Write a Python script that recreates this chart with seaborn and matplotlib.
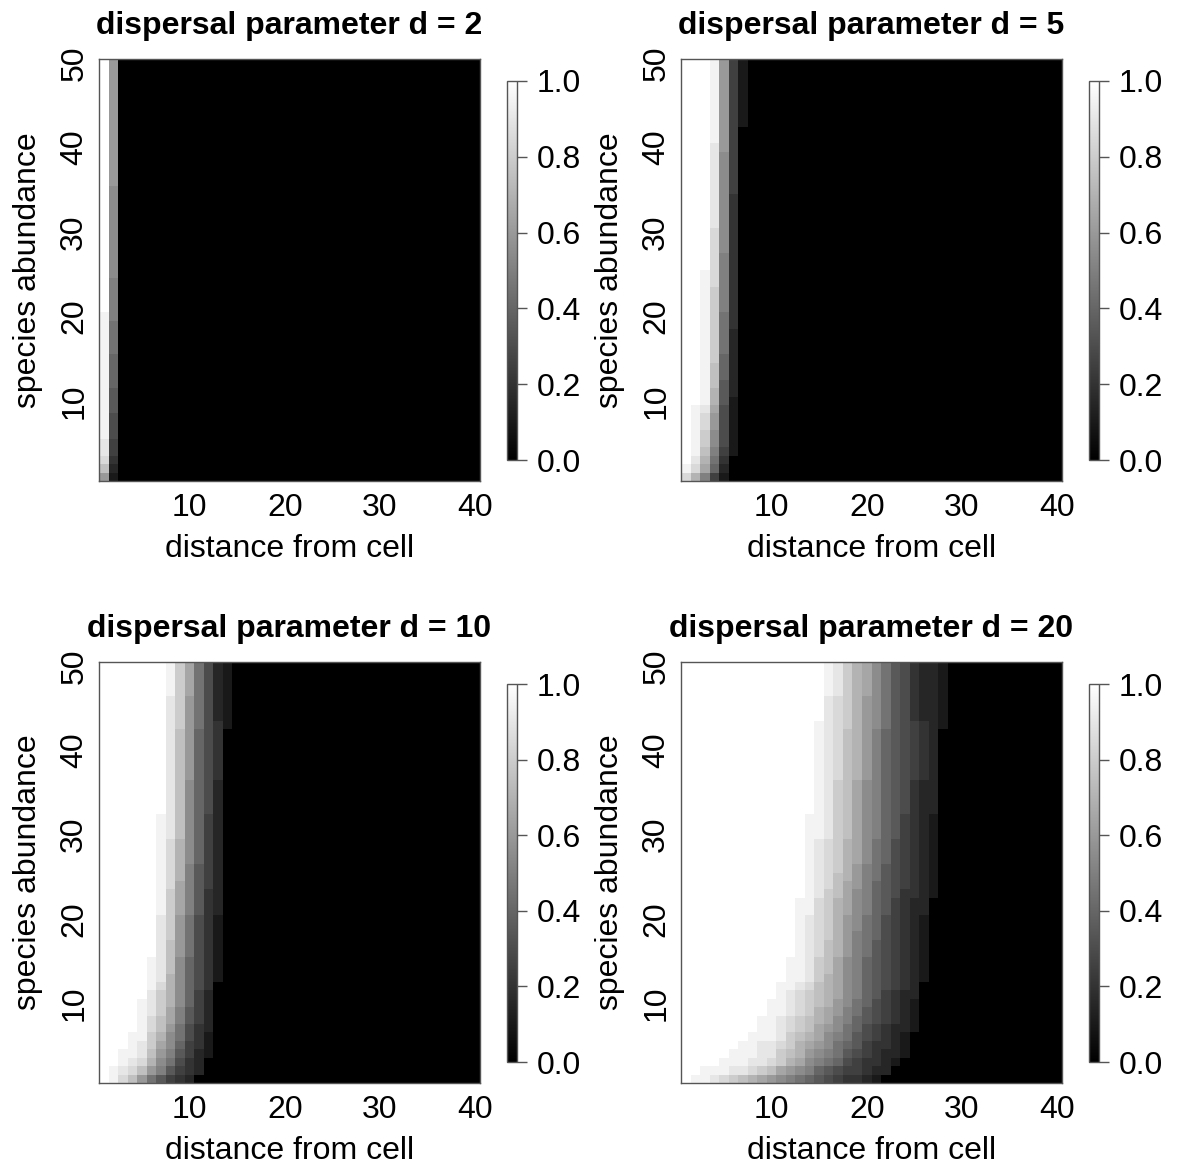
import numpy as np
import pandas as pd
import matplotlib
matplotlib.use("Agg")
import matplotlib.pyplot as plt
import seaborn as sns

# grey level of each cell:
# "0" = 0.0 (black) ... "K" = 1.0 (white), in steps of 0.05
LEVELS = "0123456789ABCDEFGHIJK"

n_dist = 40
distance = list(range(1, 41))
abundance = list(range(50, 0, -1))   # top row (abundance 50) first

d_values = [2, 5, 10, 20]

# runs of (number of rows, cells from distance 1 onwards), abundance 50 down to 1
# cells not written out are black
rows_d2 = [
    (15, "KC"), (11, "KB"), (4, "KA"), (1, "JA"), (4, "J9"), (4, "J8"),
    (3, "J7"), (3, "J6"), (2, "I5"), (1, "H4"), (1, "F3"), (1, "C2"),
]

rows_d5 = [
    (8, "KKKJC52"), (2, "KKKJC5"), (1, "KKKIC5"), (5, "KKKIB5"), (4, "KKKIB4"),
    (3, "KKKHB4"), (2, "KKKHA4"), (2, "KKJHA4"), (3, "KKJGA4"), (2, "KKJG94"),
    (3, "KKJG93"), (1, "KKJG83"), (2, "KKJF83"), (1, "KKJF73"), (1, "KKJE73"),
    (1, "KKJE72"), (1, "KJID62"), (2, "KJHC62"), (2, "KJGB62"), (1, "KJFA52"),
    (1, "KIE94"), (1, "JHD83"), (1, "HEA52"),
]

rows_d10 = [
    (4, "KKKKKKKJGD9632"), (3, "KKKKKKKIGC9632"), (1, "KKKKKKKIGC9642"),
    (6, "KKKKKKKIFC864"), (4, "KKKKKKKIFB863"), (3, "KKKKKKJIFB853"),
    (3, "KKKKKKJHEB853"), (2, "KKKKKKJHEA753"), (1, "KKKKKKJHDA753"),
    (3, "KKKKKKJGDA743"), (3, "KKKKKKIGC9642"), (2, "KKKKKKIFC9642"),
    (2, "KKKKKJIFB8642"), (1, "KKKKKJIEB8642"), (1, "KKKKKJHEB864"),
    (1, "KKKKKIGEB853"), (1, "KKKKJIGEB853"), (1, "KKKKJIGDA753"),
    (1, "KKKKJHFDA753"), (1, "KKKKJHFC9643"), (1, "KKKJJGEB9642"),
    (1, "KKKJIGDB8542"), (1, "KKJJIFCA7532"), (1, "KKJIHEB9643"),
    (1, "KJIHFCA7543"), (1, "KJHFC97543"),
]

rows_d20 = [
    (4, "KKKKKKKKKKKKKKKJIGEDB9764332"),
    (3, "KKKKKKKKKKKKKKKIHGECB9764332"),
    (1, "KKKKKKKKKKKKKKJIHGECB9765432"),
    (6, "KKKKKKKKKKKKKKJIHFECA876543"),
    (4, "KKKKKKKKKKKKKKJIGFDBA876433"),
    (3, "KKKKKKKKKKKKKJJIGFDBA875432"),
    (3, "KKKKKKKKKKKKKJIHGEDB9865432"),
    (1, "KKKKKKKKKKKKKJIHGECA9765432"),
    (1, "KKKKKKKKKKKKKJIHFECA9765432"),
    (1, "KKKKKKKKKKKKKJIHFDCA8765432"),
    (1, "KKKKKKKKKKKKKJIGFDBA8764432"),
    (2, "KKKKKKKKKKKKJJHGEDBA875433"),
    (2, "KKKKKKKKKKKKJIHGECB9865432"),
    (1, "KKKKKKKKKKKKJIHGECA9865432"),
    (2, "KKKKKKKKKKKKJIHFECA9765432"),
    (2, "KKKKKKKKKKKJJIGFDBA8765432"),
    (1, "KKKKKKKKKKKJJIGEDBA8765432"),
    (1, "KKKKKKKKKKJJIHFEDBA876543"),
    (1, "KKKKKKKKKKJIHGFEDBA875433"),
    (1, "KKKKKKKKKJJIHGFECB9865432"),
    (1, "KKKKKKKKKJJIHGEDCA9765432"),
    (1, "KKKKKKKKJJIHGFEDBA8765432"),
    (1, "KKKKKKKKJJIHGFDCB98654332"),
    (1, "KKKKKKKJJJIGFEDBA9765432"),
    (1, "KKKKKKJJIIHGEDCB98754432"),
    (1, "KKKKKJJJIIGFECBA97654332"),
    (1, "KKKKJJJIIHGEDBA98654432"),
    (1, "KKJJJIIHGFDCBA87655433"),
    (1, "KJJIHGFEDCBA987654432"),
]

x_ticks = [10, 20, 30, 40]
y_ticks = [50, 40, 30, 20, 10]
cbar_ticks = [0.0, 0.2, 0.4, 0.6, 0.8, 1.0]


def decode(runs):
    grid = []
    for n, cells in runs:
        vals = [LEVELS.index(c) / 20 for c in cells]
        vals += [0.0] * (n_dist - len(vals))
        grid += [vals] * n
    return pd.DataFrame(grid, index=abundance, columns=distance)


sns.set_style("white")
plt.rcParams['font.family'] = ['Liberation Sans', 'DejaVu Sans']
plt.rcParams['text.color'] = 'black'
plt.rcParams['axes.labelcolor'] = 'black'
plt.rcParams['xtick.color'] = 'black'
plt.rcParams['ytick.color'] = 'black'

W, H = 1178, 1167
fig = plt.figure(figsize=(W / 100, H / 100), dpi=100)


def box(l, t, r, b):
    return [l / W, 1 - b / H, (r - l) / W, (b - t) / H]


# pixel boxes: (axes left, top, right, bottom), colorbar left
layout = [
    (99, 59, 480, 481, 507),
    (681, 59, 1062, 481, 1089),
    (99, 662, 480, 1083, 507),
    (681, 662, 1062, 1083, 1089),
]
all_rows = [rows_d2, rows_d5, rows_d10, rows_d20]
fs = 23
frame = '#555555'

for d, runs, (l, t, r, b, cl) in zip(d_values, all_rows, layout):
    df = decode(runs)
    ax = fig.add_axes(box(l, t, r, b))
    cax = fig.add_axes(box(cl, t + 22, cl + 10, b - 21))
    sns.heatmap(df, ax=ax, cbar_ax=cax, cmap='gray', vmin=0, vmax=1,
                xticklabels=False, yticklabels=False)

    ax.set_xticks([v - 0.5 for v in x_ticks])
    ax.set_xticklabels([str(v) for v in x_ticks])
    ax.set_yticks([50 - v + 0.5 for v in y_ticks])
    ax.set_yticklabels([str(v) for v in y_ticks], rotation=90, va='center')
    ax.tick_params(axis='both', length=5, width=1, color=frame,
                   labelsize=fs, labelcolor='black')
    ax.tick_params(axis='x', pad=4)
    ax.tick_params(axis='y', pad=2)
    for s in ax.spines.values():
        s.set_visible(True)
        s.set_color(frame)
        s.set_linewidth(1)

    ax.set_title(f"dispersal parameter d = {d}", fontsize=fs,
                 fontweight='bold', pad=18, color='black')
    ax.set_xlabel('')
    ax.set_ylabel('')

    cx = (l + r) / 2
    fig.text(cx / W, 1 - (b + 68) / H, "distance from cell",
             ha='center', va='center', fontsize=fs, color='black')
    fig.text((l - 71) / W, 1 - (t + b) / 2 / H, "species abundance",
             rotation=90, ha='center', va='center', fontsize=fs,
             color='black')

    cbar = ax.collections[0].colorbar
    cbar.set_ticks(cbar_ticks)
    cbar.set_ticklabels([f"{v:.1f}" for v in cbar_ticks])
    cbar.ax.tick_params(labelsize=fs, length=7, width=1, color=frame,
                        pad=7, labelcolor='black')
    cbar.outline.set_edgecolor(frame)
    cbar.outline.set_linewidth(1)

fig.savefig("out.png", dpi=100)
